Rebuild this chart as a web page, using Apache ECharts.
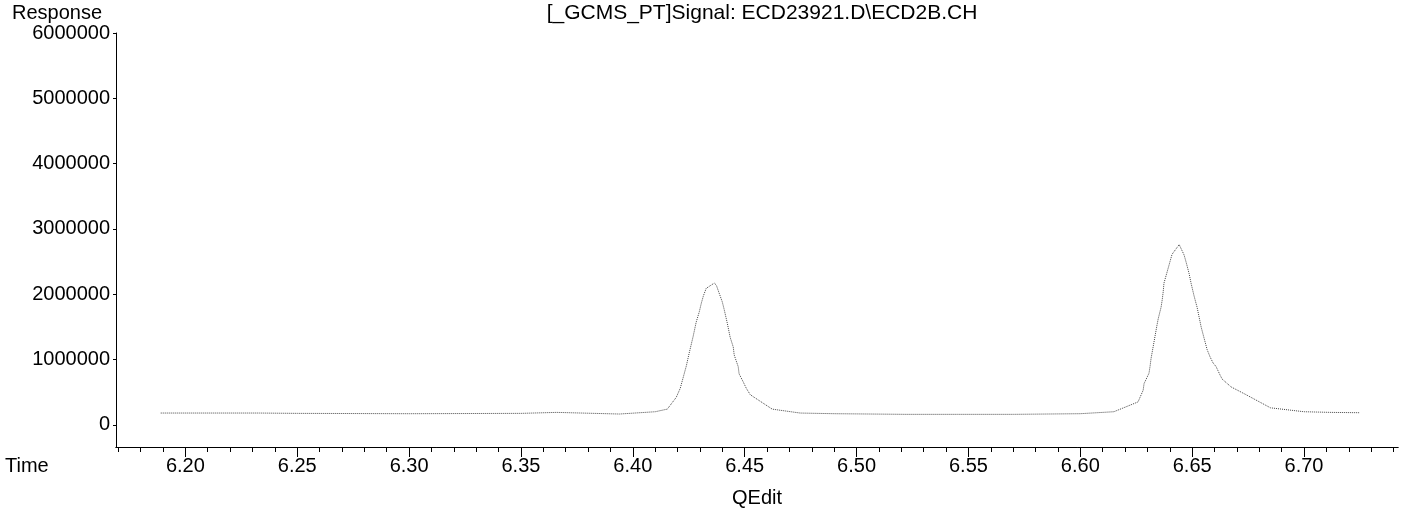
<!DOCTYPE html>
<html><head><meta charset="utf-8">
<script src="https://cdn.jsdelivr.net/npm/echarts@6/dist/echarts.min.js"></script>
<style>html,body{margin:0;padding:0;background:#fff}#c{width:1408px;height:513px}</style>
</head><body><div id="c"></div>
<script>
const times = [6.189,6.206,6.233,6.250,6.300,6.350,6.366,6.394,6.410,6.4154,6.4194,6.4212,6.4239,6.4252,6.4270,6.4283,6.4297,6.4306,6.4315,6.4328,6.4364,6.4373,6.4400,6.4408,6.4422,6.4435,6.4449,6.4453,6.4471,6.4475,6.4493,6.4507,6.4525,6.4623,6.4748,6.490,6.522,6.545,6.570,6.600,6.615,6.6258,6.6281,6.6285,6.6307,6.6312,6.6316,6.6343,6.6348,6.6361,6.6366,6.6370,6.6374,6.6388,6.6401,6.6410,6.6442,6.6464,6.6473,6.6486,6.6495,6.6508,6.6522,6.6540,6.6553,6.6567,6.6580,6.6593,6.6607,6.6625,6.6634,6.6674,6.6736,6.685,6.700,6.712,6.725];
const response = [180000,180000,180000,175000,170000,175000,190000,165000,200000,240000,420000,560000,900000,1100000,1360000,1570000,1730000,1860000,1970000,2090000,2170000,2140000,1880000,1770000,1560000,1340000,1190000,1070000,890000,780000,660000,560000,460000,240000,180000,170000,160000,160000,160000,170000,200000,350000,530000,630000,790000,900000,1010000,1530000,1620000,1800000,1910000,2020000,2170000,2340000,2500000,2610000,2760000,2600000,2490000,2320000,2170000,1980000,1800000,1500000,1330000,1150000,1040000,950000,890000,760000,700000,580000,470000,260000,200000,190000,185000];
const yTicks = [0,1000000,2000000,3000000,4000000,5000000,6000000];
const xMajor = [6.20,6.25,6.30,6.35,6.40,6.45,6.50,6.55,6.60,6.65,6.70];
const xMinor = [6.17,6.18,6.19,6.20,6.21,6.22,6.23,6.24,6.25,6.26,6.27,6.28,6.29,6.30,6.31,6.32,6.33,6.34,6.35,6.36,6.37,6.38,6.39,6.40,6.41,6.42,6.43,6.44,6.45,6.46,6.47,6.48,6.49,6.50,6.51,6.52,6.53,6.54,6.55,6.56,6.57,6.58,6.59,6.60,6.61,6.62,6.63,6.64,6.65,6.66,6.67,6.68,6.69,6.70,6.71,6.72,6.73,6.74];
const titleText = '[_GCMS_PT]Signal: ECD23921.D\\ECD2B.CH';

const font = 'Liberation Sans, Arial, sans-serif';
const chart = echarts.init(document.getElementById('c'), null, {renderer:'canvas'});
const xBase = {type:'value', min:6.169, max:6.742, splitLine:{show:false},
  axisLine:{show:true, onZero:false, lineStyle:{color:'#000', width:1}}};
const ts = s => ({fontFamily:font, fontSize:s, fontWeight:'normal', color:'#000'});
chart.setOption({
  animation:false,
  title:[
    {text:titleText, left:762, top:3, padding:0, textAlign:'center', textStyle:ts(21)},
    {text:'Response', left:12, top:3, padding:0, textStyle:ts(20)},
    {text:'Time', left:5, top:456, padding:0, textStyle:ts(20)},
    {text:'QEdit', left:757, top:488, padding:0, textAlign:'center', textStyle:ts(20)}
  ],
  grid:{left:116, right:10, top:33, bottom:66},
  xAxis:[
    Object.assign({}, xBase, {
      axisTick:{show:true, length:10, customValues:xMajor, lineStyle:{color:'#000'}},
      axisLabel:{show:true, customValues:xMajor, margin:9, fontFamily:font, fontSize:20, color:'#000', formatter:v=>v.toFixed(2)}
    }),
    Object.assign({}, xBase, {position:'bottom',
      axisTick:{show:true, length:5, customValues:xMinor, lineStyle:{color:'#000'}},
      axisLabel:{show:false}
    })
  ],
  yAxis:{type:'value', min:-340000, max:6000000, splitLine:{show:false},
    axisLine:{show:true, lineStyle:{color:'#000', width:1}},
    axisTick:{show:true, length:3, customValues:yTicks, lineStyle:{color:'#000'}},
    axisLabel:{show:true, customValues:yTicks, margin:6, fontFamily:font, fontSize:20, color:'#000', formatter:v=>String(v)}
  },
  series:[{type:'line', xAxisIndex:0, showSymbol:false, smooth:false,
    data:times.map((t,i)=>[t,response[i]]),
    lineStyle:{color:'#444', width:1, type:'dotted'}}]
});
</script></body></html>
